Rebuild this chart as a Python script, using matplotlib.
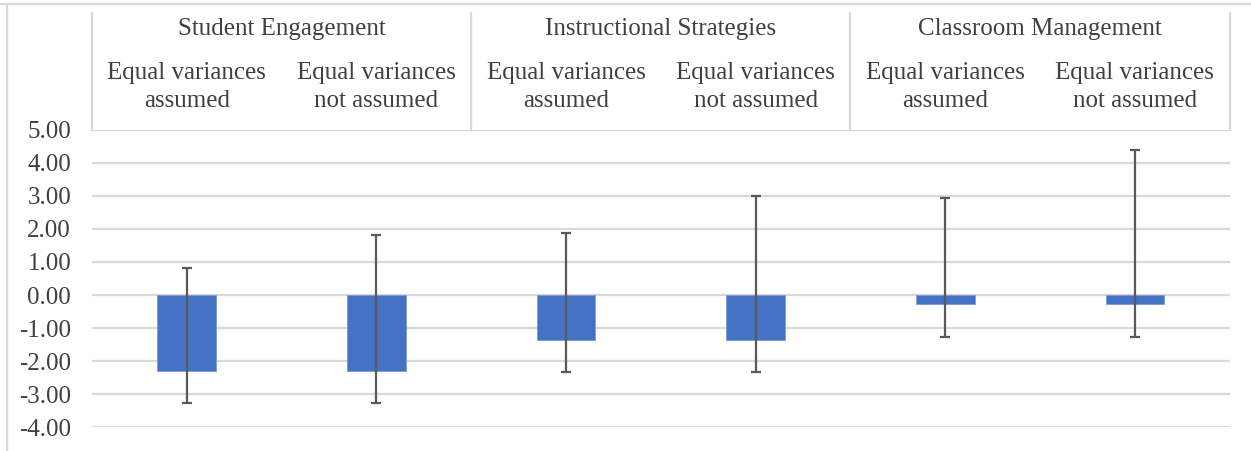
import matplotlib.pyplot as plt
import numpy as np
from matplotlib.lines import Line2D
from matplotlib.transforms import blended_transform_factory

plt.rcParams['font.family'] = ['Liberation Serif', 'DejaVu Serif']

groups = ['Student Engagement', 'Instructional Strategies', 'Classroom Management']
subcats = ['Equal variances\nassumed', 'Equal variances\nnot assumed'] * 3
means = [-2.29, -2.29, -1.35, -1.35, -0.28, -0.28]
upper = [0.81, 1.82, 1.88, 3.01, 2.95, 4.40]
lower = [-3.28, -3.28, -2.33, -2.33, -1.26, -1.26]
yticks = [-4, -3, -2, -1, 0, 1, 2, 3, 4, 5]

grid_c = '#d9d9d9'
text_c = '#404040'

x = np.arange(len(means))
means_a = np.array(means)
err = [means_a - np.array(lower), np.array(upper) - means_a]

fig = plt.figure(figsize=(12.51, 4.51), dpi=100)
ax = fig.add_axes([0.0735, 0.053, 0.9095, 0.659])

ax.bar(x, means, width=0.31, color='#4472C4', edgecolor='#7a9bd6', linewidth=0.6, zorder=2)
ax.errorbar(x, means, yerr=err, fmt='none', ecolor='#595959', elinewidth=1.6,
            capsize=3.6, capthick=1.6, zorder=3)

ax.set_xlim(-0.5, 5.5)
ax.set_ylim(-4, 5)
ax.set_yticks(yticks)
ax.set_yticklabels([f'{v:.2f}' for v in yticks], fontsize=18, color=text_c)
ax.tick_params(axis='y', length=0, pad=15)
ax.set_xticks([])
for s in ax.spines.values():
    s.set_visible(False)
for v in yticks:
    ax.axhline(v, color=grid_c, lw=1.6, zorder=1)

# category header above the plot
tr = blended_transform_factory(ax.transData, ax.transAxes)
for b in [-0.5, 1.5, 3.5, 5.5]:
    ax.add_line(Line2D([b, b], [1.0, 1.394], transform=tr, color=grid_c, lw=1.6, clip_on=False))
for i, g in enumerate(groups):
    ax.text(2 * i + 0.5, 1.34, g, transform=tr, ha='center', va='center',
            fontsize=18, color=text_c)
for i, s in enumerate(subcats):
    ax.text(i, 1.145, s, transform=tr, ha='center', va='center',
            fontsize=18, color=text_c, linespacing=1.32)

# chart border (top and left)
fig.add_artist(Line2D([0.0, 1.0], [1 - 4 / 451, 1 - 4 / 451], color=grid_c, lw=1.6))
fig.add_artist(Line2D([7 / 1251, 7 / 1251], [0.0, 1 - 4 / 451], color=grid_c, lw=1.6))

fig.savefig('out.png', dpi=100)
